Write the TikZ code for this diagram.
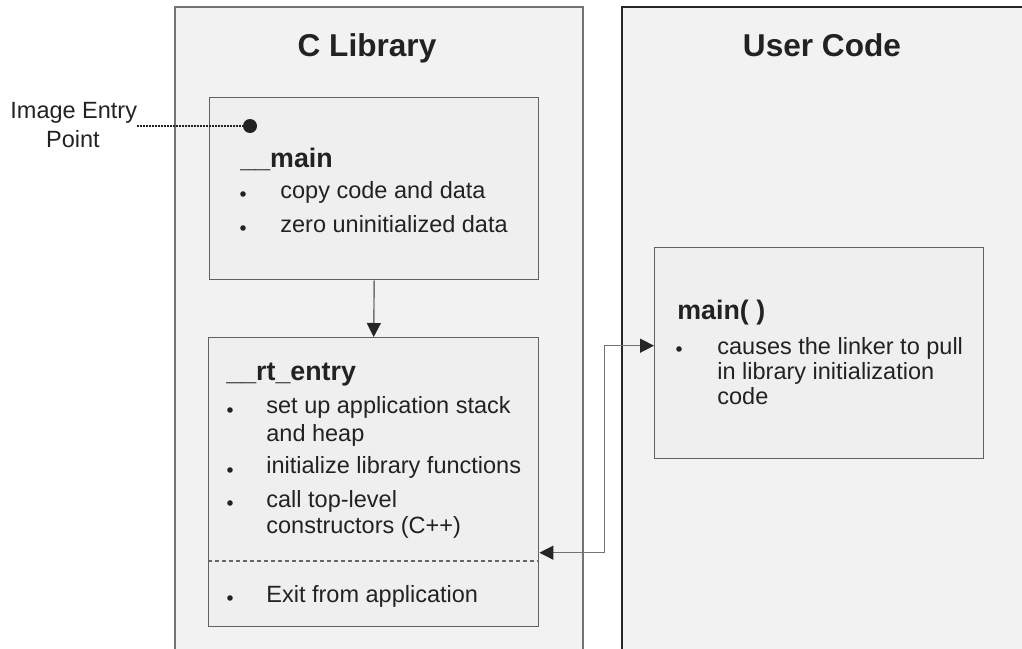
\documentclass[tikz,border=0pt]{standalone}
\usepackage{fontspec}
\setmainfont{Liberation Sans}
\usetikzlibrary{arrows.meta,calc}
\definecolor{panelfill}{HTML}{F2F2F2}
\definecolor{boxfill}{HTML}{EFEFEF}
\definecolor{ink}{HTML}{222222}
\tikzset{
	panel/.style={draw=black!55, line width=0.7pt, fill=panelfill},
	box/.style={draw=black!62, line width=0.7pt, fill=boxfill, inner sep=0, anchor=north west},
	txt/.style={anchor=base west, inner sep=0, text=ink, font=\fontsize{11.75}{13}\selectfont},
	head/.style={txt, font=\fontsize{13.4}{15}\selectfont\bfseries},
	title/.style={anchor=base, inner sep=0, text=ink, font=\fontsize{15.8}{18}\selectfont\bfseries},
	dot/.style={circle, fill=ink, inner sep=0, minimum size=2.8pt},
	tip/.style={-{Triangle[length=7pt,width=7pt,color=black!85]}},
	tips/.style={{Triangle[length=7pt,width=7pt,color=black!85]}-{Triangle[length=7pt,width=7pt,color=black!85]}},
}

\begin{document}
\begin{tikzpicture}[x=0.5pt, y=-0.5pt]
		%%%%% START %%%%%
		\useasboundingbox (0,0) rectangle (1022,648);
		\clip (0,0) rectangle (1022,648);
		
		\draw[panel] (175,7) rectangle (583,700);
		\draw[panel, draw=black!85] (622,7) rectangle (1100,700);
		
		\node[title] (libtitle) at (367,56) {C Library};
		\node[title] (usertitle) at (822,56) {User Code};
		
		\node[box, minimum width=164.5pt, minimum height=91pt] (mainbox) at (209,97) {};
		\node[box, minimum width=165pt, minimum height=144.5pt] (rtbox) at (208,337) {};
		\node[box, minimum width=164.5pt, minimum height=105.5pt] (userbox) at (654,247) {};
		
		\draw[black!60, line width=0.6pt, dash pattern=on 2pt off 1.5pt] (rtbox.west |- 0,561) -- (rtbox.east |- 0,561);
		
		\node[head] (mainhead) at (240,167) {\_\_main};
		\node[dot] (md1) at (243,194) {};
		\node[txt] (mt1) at (280,198) {copy code and data};
		\node[dot] (md2) at (243,228) {};
		\node[txt] (mt2) at (280,232) {zero uninitialized data};
		
		\node[head] (rthead) at (226,380) {\_\_rt\_entry};
		\node[dot] (rd1) at (230,410) {};
		\node[txt] (rt1) at (266,413) {set up application stack};
		\node[txt] (rt1b) at (266,441) {and heap};
		\node[dot] (rd2) at (230,470) {};
		\node[txt] (rt2) at (266,473) {initialize library functions};
		\node[dot] (rd3) at (230,503) {};
		\node[txt] (rt3) at (266,507) {call top-level};
		\node[txt] (rt3b) at (266,533) {constructors (C++)};
		\node[dot] (rd4) at (230,598) {};
		\node[txt] (rt4) at (266,602) {Exit from application};
		
		\node[head] (userhead) at (677,319) {main( )};
		\node[dot] (ud1) at (679,349) {};
		\node[txt] (ut1) at (717,354) {causes the linker to pull};
		\node[txt] (ut1b) at (717,379) {in library initialization};
		\node[txt] (ut1c) at (717,404) {code};
		
		\node[txt] (entrylabel) at (10,118) {Image Entry};
		\node[txt, anchor=base] (entrylabelb) at (73,147) {Point};
		\node[circle, fill=ink, inner sep=0, minimum size=7pt] (entry) at (250,126) {};
		\draw[ink, dash pattern=on 0.9pt off 0.6pt, line width=1.1pt] (entrylabel.east |- entry) -- (entry);
		
		\draw[black!55, line width=0.7pt, tip] (mainbox.south) -- (rtbox.north);
		
		\coordinate (rtin) at ($(rtbox.east)+(0,70.5)$);
		\coordinate (userin) at ($(userbox.west)+(0,-7.5)$);
		\draw[black!55, line width=0.7pt, tips] (rtin) -- ++(65,0) |- (userin);
		
		%%%%% END %%%%%
	\end{tikzpicture}
\end{document}
